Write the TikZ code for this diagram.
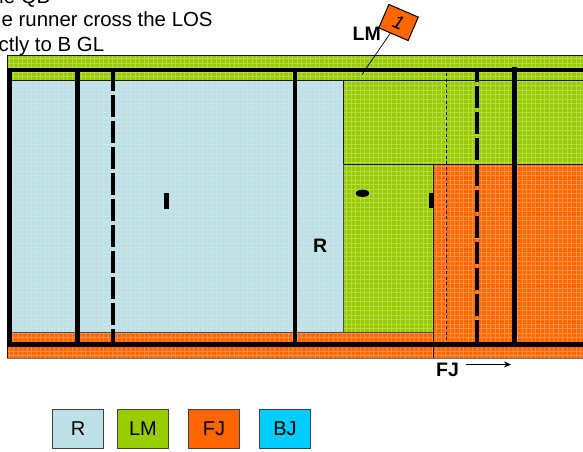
\documentclass[tikz,border=0pt]{standalone}
\usepackage{fontspec}
\setmainfont{Liberation Sans}
\usetikzlibrary{arrows.meta}
\definecolor{fR}{HTML}{BCE0E5}
\definecolor{fLM}{HTML}{99CC00}
\definecolor{fFJ}{HTML}{FF6600}
\definecolor{fBJ}{HTML}{00CCFF}
\tikzset{
  thickline/.style={black,line width=4.4pt},
  thinline/.style={black!90,line width=1pt},
  gapline/.style={thickline,dash pattern=on 22pt off 4pt},
  texfine/.style={white,line width=0.9pt,opacity=.16},
  texbold/.style={white,line width=1pt,opacity=.28},
  legendbox/.style={draw=black!75,line width=1pt,minimum width=51pt,minimum height=39pt,inner sep=0pt,font=\fontsize{20}{22}\selectfont},
  bigtext/.style={inner sep=0pt,font=\fontsize{20.4}{24}\selectfont},
  boldlabel/.style={inner sep=0pt,font=\fontsize{19.5}{22}\selectfont\bfseries},
}
\newcommand{\texregion}[6]{%
  \fill[#5] (#1,#2) rectangle (#3,#4);
  \begin{scope}
    \clip (#1,#2) rectangle (#3,#4);
    \draw[step=4.5pt,#6] (0,0) grid (590,-400);
    \draw[step=4.5pt,#6] (0,0) grid (590,400);
  \end{scope}}
\begin{document}
\begin{tikzpicture}[x=1pt,y=-1pt]
\useasboundingbox (0,0) rectangle (583,451);
% regions
\texregion{7}{55}{583}{81}{fLM}{texbold}
\texregion{343}{81}{583}{164}{fLM}{texbold}
\texregion{343}{164}{433}{332}{fLM}{texbold}
\texregion{433}{164}{583}{358}{fFJ}{texbold}
\texregion{7}{332}{433}{358}{fFJ}{texbold}
\texregion{7}{81}{343}{332}{fR}{texfine}
% region outlines
\draw[thinline] (583,55) -- (7,55) -- (7,358);
\draw[black!55,line width=0.9pt] (7,358) -- (583,358);
\draw[thinline] (11,80.5) -- (583,80.5);
\draw[thinline] (343,81) -- (343,164);
\draw[thinline] (343,164) -- (583,164);
\draw[black!70,line width=0.9pt] (343,164) -- (343,332);
\draw[black!70,line width=0.9pt] (7,332) -- (433,332);
\draw[thinline] (433,164) -- (433,358);
% thin dashed
\draw[black,line width=0.8pt,dash pattern=on 3pt off 2.5pt] (446.5,73) -- (446.5,341);
% thick solid lines
\draw[thickline] (9.3,70) -- (9.3,344.5);
\draw[thickline] (77.3,70) -- (77.3,344.5);
\draw[thickline] (295.2,70) -- (295.2,344.5);
\draw[thickline] (514.6,67) -- (514.6,344.5);
% thick dashed lines
\draw[gapline,dash phase=1pt] (113,70) -- (113,344.5);
\draw[gapline,dash phase=10pt] (477,70) -- (477,344.5);
% horizontals
\draw[thickline] (7,70) -- (583,70);
\draw[thickline] (7,344.5) -- (583,344.5);
% small marks
\fill[black] (164,193) rectangle (168.7,209);
\fill[black] (429,192.5) rectangle (433.5,208);
\fill[black] (362.5,193.3) ellipse [x radius=6.8pt,y radius=3.6pt];
% text at top
\node[bigtext,anchor=base east] (t1) at (50.5,3) {he QB};
\node[bigtext,anchor=base west] (t2) at (1.5,26) {e runner cross the LOS};
\node[bigtext,anchor=base west] (t3) at (-1.5,51) {ctly to B GL};
% labels
\node[boldlabel,anchor=base west] (lm) at (352.5,40) {LM};
\node[boldlabel,anchor=base west] (r) at (313,252.5) {R};
\node[boldlabel,anchor=base west] (fj) at (436,376) {FJ};
\coordinate (fjstart) at (465.5,364.5);
\coordinate (fjend) at (511,364.5);
\draw[black,line width=1pt,-{Stealth[length=7pt,width=6pt]}] (fjstart) -- (fjend);
% flag
\coordinate (flagfoot) at (362,74.5);
\node[draw=black,line width=1pt,fill=fFJ,rotate=-23.4,minimum width=32pt,minimum height=25.5pt,inner sep=0pt,font=\fontsize{19}{20}\selectfont\itshape] (flag) at (398.5,22.5) {1};
\draw[black,line width=0.7pt] (flag.-104) -- (flagfoot);
% legend
\node[legendbox,fill=fR] (legR) at (78,429) {R};
\node[legendbox,fill=fLM] (legLM) at (143,429) {LM};
\node[legendbox,fill=fFJ] (legFJ) at (214,429) {FJ};
\node[legendbox,fill=fBJ] (legBJ) at (285,429) {BJ};
\end{tikzpicture}
\end{document}
